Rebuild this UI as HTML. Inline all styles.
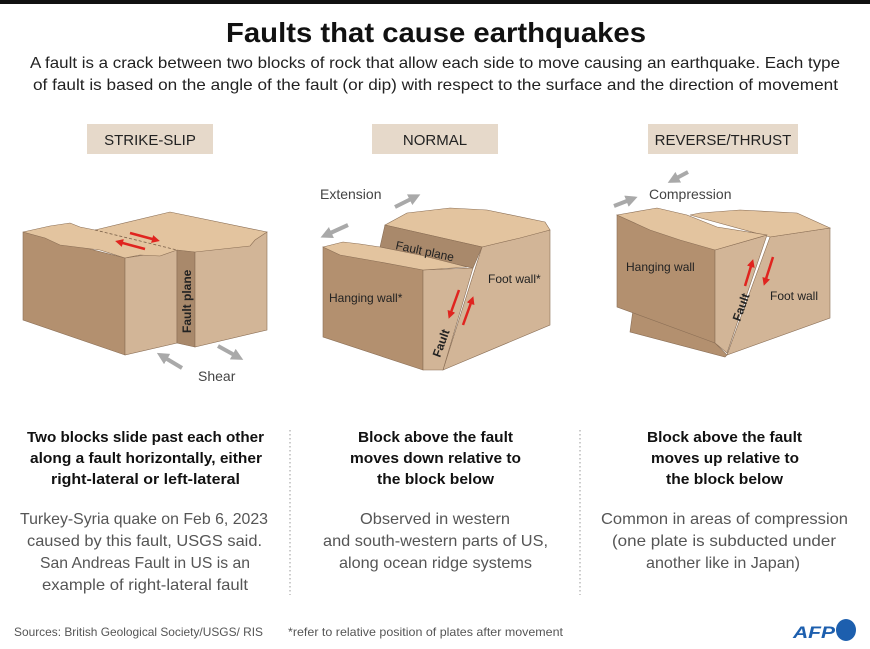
<!DOCTYPE html>
<html><head><meta charset="utf-8"><style>
html,body{margin:0;padding:0;background:#fff;}
svg{display:block;font-family:"Liberation Sans",sans-serif;}
</style></head><body>
<svg width="870" height="649" viewBox="0 0 870 649" xmlns="http://www.w3.org/2000/svg">
<defs>
<marker id="ga" viewBox="0 0 10 10" refX="5" refY="5" markerWidth="3" markerHeight="3" orient="auto"><path d="M0,0L10,5L0,10z" fill="#a9a9a9"/></marker>
<marker id="ra" viewBox="0 0 10 10" refX="5" refY="5" markerWidth="3.2" markerHeight="3.2" orient="auto"><path d="M0,0L10,5L0,10z" fill="#e0241f"/></marker>
</defs>
<rect x="0" y="0" width="870" height="4" fill="#111"/>
<text x="226" y="42" font-size="28" font-weight="bold" fill="#111" textLength="420" lengthAdjust="spacingAndGlyphs">Faults that cause earthquakes</text>
<text x="30" y="68" font-size="16" fill="#222" textLength="810" lengthAdjust="spacingAndGlyphs">A fault is a crack between two blocks of rock that allow each side to move causing an earthquake. Each type</text>
<text x="33" y="90" font-size="16" fill="#222" textLength="805" lengthAdjust="spacingAndGlyphs">of fault is based on the angle of the fault (or dip) with respect to the surface and the direction of movement</text>

<rect x="87" y="124" width="126" height="30" fill="#e6d9ca"/>
<text x="150" y="145" font-size="15" fill="#222" text-anchor="middle">STRIKE-SLIP</text>
<rect x="372" y="124" width="126" height="30" fill="#e6d9ca"/>
<text x="435" y="145" font-size="15" fill="#222" text-anchor="middle">NORMAL</text>
<rect x="648" y="124" width="150" height="30" fill="#e6d9ca"/>
<text x="723" y="145" font-size="15" fill="#222" text-anchor="middle">REVERSE/THRUST</text>

<!-- STRIKE-SLIP -->
<g stroke="#8a6e55" stroke-width="0.6">
<polygon points="23,232 125,258 125,355 23,320" fill="#b3906f"/>
<polygon points="125,258 177,250 177,343 125,355" fill="#d2b597"/>
<polygon points="177,250 195,252 195,347 177,343" fill="#a9896b"/>
<polygon points="195,252 267,232 267,330 195,347" fill="#d2b597"/>
<polygon points="23,232 50,226 70,223 80,227 95,230 170,212 267,232 255,240 250,246 195,252 177,250 160,256 140,255 125,258 100,250 60,245 45,238" fill="#e3c49f"/>
</g>
<line x1="95" y1="230" x2="177" y2="250" stroke="#7a6048" stroke-width="0.8" stroke-dasharray="3,2"/>
<line x1="130" y1="233" x2="156" y2="240" stroke="#e0241f" stroke-width="2.5" marker-end="url(#ra)"/>
<line x1="145" y1="249" x2="119" y2="242" stroke="#e0241f" stroke-width="2.5" marker-end="url(#ra)"/>
<text transform="translate(191,333) rotate(-90)" font-size="12" font-weight="bold" fill="#222">Fault plane</text>
<line x1="182" y1="368" x2="162" y2="356" stroke="#a9a9a9" stroke-width="4" marker-end="url(#ga)"/>
<line x1="218" y1="346" x2="238" y2="357" stroke="#a9a9a9" stroke-width="4" marker-end="url(#ga)"/>
<text x="198" y="381" font-size="14" fill="#444">Shear</text>

<!-- NORMAL -->
<g stroke="#8a6e55" stroke-width="0.6">
<polygon points="482,247 550,230 550,325 443,370" fill="#d2b597"/>
<polygon points="385,225 407,213 450,208 487,210 545,222 550,230 520,238 482,247" fill="#e3c49f"/>
<polygon points="385,225 482,247 473,268 380,247" fill="#a9896b"/>
<polygon points="323,247 423,270 423,370 323,337" fill="#b3906f"/>
<polygon points="423,270 473,268 443,370 423,370" fill="#d2b597"/>
<polygon points="323,247 343,242 360,244 380,247 420,255 467,267 423,270 380,262 340,255" fill="#e3c49f"/>
</g>
<text x="320" y="199" font-size="14" fill="#444">Extension</text>
<line x1="395" y1="207" x2="415" y2="197" stroke="#a9a9a9" stroke-width="4" marker-end="url(#ga)"/>
<line x1="348" y1="225" x2="326" y2="235" stroke="#a9a9a9" stroke-width="4" marker-end="url(#ga)"/>
<text transform="translate(395,249) rotate(12)" font-size="12" fill="#222">Fault plane</text>
<text x="488" y="283" font-size="12" fill="#222">Foot wall*</text>
<text x="329" y="302" font-size="12" fill="#222">Hanging wall*</text>
<text transform="translate(440,358) rotate(-70)" font-size="12" font-weight="bold" fill="#222">Fault</text>
<line x1="459" y1="290" x2="450" y2="315" stroke="#e0241f" stroke-width="2.5" marker-end="url(#ra)"/>
<line x1="463" y1="325" x2="472" y2="300" stroke="#e0241f" stroke-width="2.5" marker-end="url(#ra)"/>

<!-- REVERSE -->
<g stroke="#8a6e55" stroke-width="0.6">
<polygon points="770,237 830,228 830,318 727,355" fill="#d2b597"/>
<polygon points="690,215 700,213 740,210 797,213 830,228 770,237" fill="#e3c49f"/>
<polygon points="633,310 715,343 727,355 725,357 630,332" fill="#b3906f"/>
<polygon points="617,215 715,250 715,343 617,307" fill="#b3906f"/>
<polygon points="715,250 767,235 727,353 715,343" fill="#d2b597"/>
<polygon points="617,215 657,208 687,215 717,227 767,235 715,250 680,240 650,230" fill="#e3c49f"/>
</g>
<text x="649" y="199" font-size="14" fill="#444">Compression</text>
<line x1="688" y1="172" x2="673" y2="180" stroke="#a9a9a9" stroke-width="4" marker-end="url(#ga)"/>
<line x1="614" y1="206" x2="632" y2="199" stroke="#a9a9a9" stroke-width="4" marker-end="url(#ga)"/>
<text x="626" y="271" font-size="12" fill="#222">Hanging wall</text>
<text x="770" y="300" font-size="12" fill="#222">Foot wall</text>
<text transform="translate(740,322) rotate(-70)" font-size="12" font-weight="bold" fill="#222">Fault</text>
<line x1="745" y1="286" x2="752" y2="263" stroke="#e0241f" stroke-width="2.5" marker-end="url(#ra)"/>
<line x1="773" y1="257" x2="765" y2="282" stroke="#e0241f" stroke-width="2.5" marker-end="url(#ra)"/>

<!-- separators -->
<line x1="290" y1="430" x2="290" y2="595" stroke="#999" stroke-width="1" stroke-dasharray="1.5,2.5"/>
<line x1="580" y1="430" x2="580" y2="595" stroke="#999" stroke-width="1" stroke-dasharray="1.5,2.5"/>

<g font-size="14.5" font-weight="bold" fill="#111">
<text x="27" y="442" textLength="237" lengthAdjust="spacingAndGlyphs">Two blocks slide past each other</text>
<text x="30" y="463" textLength="232" lengthAdjust="spacingAndGlyphs">along a fault horizontally, either</text>
<text x="51" y="484" textLength="189" lengthAdjust="spacingAndGlyphs">right-lateral or left-lateral</text>
<text x="358" y="442" textLength="155" lengthAdjust="spacingAndGlyphs">Block above the fault</text>
<text x="350" y="463" textLength="171" lengthAdjust="spacingAndGlyphs">moves down relative to</text>
<text x="377" y="484" textLength="117" lengthAdjust="spacingAndGlyphs">the block below</text>
<text x="647" y="442" textLength="155" lengthAdjust="spacingAndGlyphs">Block above the fault</text>
<text x="651" y="463" textLength="148" lengthAdjust="spacingAndGlyphs">moves up relative to</text>
<text x="666" y="484" textLength="117" lengthAdjust="spacingAndGlyphs">the block below</text>
</g>
<g font-size="16" fill="#555">
<text x="20" y="524" textLength="248" lengthAdjust="spacingAndGlyphs">Turkey-Syria quake on Feb 6, 2023</text>
<text x="27" y="546" textLength="235" lengthAdjust="spacingAndGlyphs">caused by this fault, USGS said.</text>
<text x="40" y="568" textLength="210" lengthAdjust="spacingAndGlyphs">San Andreas Fault in US is an</text>
<text x="42" y="590" textLength="206" lengthAdjust="spacingAndGlyphs">example of right-lateral fault</text>
<text x="360" y="524" textLength="150" lengthAdjust="spacingAndGlyphs">Observed in western</text>
<text x="323" y="546" textLength="225" lengthAdjust="spacingAndGlyphs">and south-western parts of US,</text>
<text x="339" y="568" textLength="193" lengthAdjust="spacingAndGlyphs">along ocean ridge systems</text>
<text x="601" y="524" textLength="247" lengthAdjust="spacingAndGlyphs">Common in areas of compression</text>
<text x="612" y="546" textLength="224" lengthAdjust="spacingAndGlyphs">(one plate is subducted under</text>
<text x="646" y="568" textLength="154" lengthAdjust="spacingAndGlyphs">another like in Japan)</text>
</g>
<text x="14" y="636" font-size="12" fill="#555" textLength="249" lengthAdjust="spacingAndGlyphs">Sources: British Geological Society/USGS/ RIS</text>
<text x="288" y="636" font-size="12" fill="#555" textLength="275" lengthAdjust="spacingAndGlyphs">*refer to relative position of plates after movement</text>
<text x="793" y="638" font-size="17" font-weight="bold" font-style="italic" fill="#1d5fae" textLength="42" lengthAdjust="spacingAndGlyphs">AFP</text>
<ellipse cx="846" cy="630" rx="10" ry="11" fill="#1d5fae"/>
</svg>
</body></html>
